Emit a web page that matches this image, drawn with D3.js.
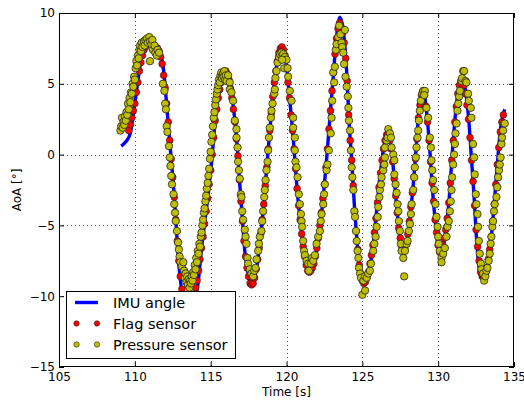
<!DOCTYPE html>
<html><head><meta charset="utf-8">
<script src="https://cdn.jsdelivr.net/npm/d3@7"></script>
<style>body{margin:0;background:#fff} svg{display:block;font-family:"DejaVu Sans",sans-serif}</style>
</head><body>
<svg id="c" width="524" height="403"></svg>
<script>
const xTicks = [105,110,115,120,125,130,135];
const yTicks = [-15,-10,-5,0,5,10];
const seriesNames = ["IMU angle","Flag sensor","Pressure sensor"];

const imuAngle = [
[109.1,0.6],[109.4,0.9],[109.7,1.5],[109.93,3.1],[110.15,4.8],[110.37,6.4],[110.6,7.5],[110.85,7.9],[111.05,8.0],[111.35,7.8],[111.6,7.5],[111.75,6.9],[111.9,5.9],[112.13,3.1],[112.35,0.3],[112.57,-2.5],[112.72,-4.9],[112.9,-7.7],[113.1,-9.6],[113.35,-10.4],[113.6,-10.5],[113.85,-10.3],[114.1,-9.6],[114.43,-6.3],[114.76,-3.5],[115.09,-0.2],[115.3,2.4],[115.57,4.5],[115.86,5.7],[116.05,5.9],[116.37,4.3],[116.6,2.4],[116.77,0.3],[116.92,-2.1],[117.08,-4.4],[117.25,-6.8],[117.47,-8.4],[117.69,-9.3],[117.96,-8.4],[118.24,-6.3],[118.46,-4.0],[118.68,-1.1],[118.9,1.7],[119.12,4.3],[119.34,6.2],[119.52,7.4],[119.71,7.7],[119.93,6.9],[120.22,3.8],[120.44,1.2],[120.59,-0.9],[120.77,-3.3],[120.95,-5.1],[121.16,-7.0],[121.47,-8.4],[121.82,-7.7],[122.13,-5.8],[122.42,-3.0],[122.64,-0.4],[122.86,2.6],[123.08,5.5],[123.3,8.3],[123.52,9.7],[123.74,8.8],[123.97,5.8],[124.12,2.4],[124.3,-0.4],[124.47,-3.5],[124.63,-5.8],[124.78,-7.7],[125.07,-9.2],[125.4,-8.4],[125.72,-6.3],[125.94,-4.0],[126.16,-1.6],[126.38,0.3],[126.67,1.5],[126.93,0.3],[127.15,-2.3],[127.37,-4.9],[127.7,-6.8],[127.92,-6.3],[128.14,-4.4],[128.36,-2.1],[128.57,0.75],[128.73,3.1],[129.01,4.5],[129.23,3.1],[129.45,0.3],[129.6,-2.1],[129.78,-4.4],[130.11,-7.0],[130.44,-5.8],[130.7,-3.5],[130.88,-0.7],[131.1,2.4],[131.32,4.5],[131.58,5.5],[131.8,4.5],[132.02,2.4],[132.19,-0.2],[132.37,-3.0],[132.52,-5.8],[132.85,-8.7],[133.18,-8.2],[133.46,-6.3],[133.68,-3.7],[133.9,-0.7],[134.12,1.9],[134.39,3.2]
];

const flagSensor = [
[109.6,1.7],[109.7,2.1],[109.8,2.6],[109.9,3.1],[110.0,3.6],[110.1,4.4],[110.2,5.1],[110.3,5.9],[110.4,6.5],[110.5,7.0],[110.6,7.4],[110.7,7.6],[110.8,7.8],[110.9,7.9],[111.0,7.9],[111.1,7.9],[111.2,7.8],[111.3,7.7],[111.4,7.5],[111.5,7.5],[111.6,7.3],[111.7,6.9],[111.8,6.4],[111.9,5.6],[112.0,4.7],[112.1,3.6],[112.2,2.3],[112.3,1.0],[112.4,-0.3],[112.5,-1.6],[112.6,-3.0],[112.7,-4.6],[112.8,-6.1],[112.9,-7.5],[113.0,-8.6],[113.1,-9.5],[113.2,-10.0],[113.3,-10.3],[113.4,-10.5],[113.5,-10.5],[113.6,-10.5],[113.7,-10.4],[113.8,-10.2],[113.9,-9.9],[114.0,-9.4],[114.1,-8.9],[114.2,-8.2],[114.3,-7.4],[114.4,-6.6],[114.5,-5.8],[114.6,-4.9],[114.7,-4.0],[114.8,-3.1],[114.9,-2.1],[115.0,-1.1],[115.1,0.0],[115.2,1.2],[115.3,2.4],[115.4,3.2],[115.5,4.0],[115.6,4.6],[115.7,5.1],[115.8,5.5],[115.9,5.8],[116.0,5.9],[116.1,5.7],[116.2,5.3],[116.3,4.7],[116.4,4.0],[116.5,3.2],[116.6,2.3],[116.7,1.1],[116.8,-0.1],[116.9,-1.8],[117.0,-3.3],[117.1,-4.7],[117.2,-6.1],[117.3,-7.2],[117.4,-8.0],[117.5,-8.6],[117.6,-9.1],[117.7,-9.2],[117.8,-9.1],[117.9,-8.7],[118.0,-8.1],[118.1,-7.4],[118.2,-6.6],[118.3,-5.6],[118.4,-4.6],[118.5,-3.5],[118.6,-2.2],[118.7,-0.9],[118.8,0.4],[118.9,1.7],[119.0,2.9],[119.1,4.1],[119.2,5.1],[119.3,5.9],[119.4,6.6],[119.5,7.2],[119.6,7.5],[119.7,7.6],[119.8,7.4],[119.9,7.0],[120.0,6.1],[120.1,5.1],[120.2,4.0],[120.3,2.8],[120.4,1.7],[120.5,0.4],[120.6,-1.0],[120.7,-2.4],[120.8,-3.6],[120.9,-4.6],[121.0,-5.6],[121.1,-6.5],[121.2,-7.2],[121.3,-7.8],[121.4,-8.2],[121.5,-8.3],[121.6,-8.2],[121.7,-8.0],[121.8,-7.7],[121.9,-7.2],[122.0,-6.6],[122.1,-5.9],[122.2,-5.0],[122.3,-4.1],[122.4,-3.1],[122.5,-2.1],[122.6,-0.9],[122.7,0.4],[122.8,1.8],[122.9,3.1],[123.0,4.5],[123.1,5.8],[123.2,7.1],[123.3,8.2],[123.4,8.9],[123.5,9.3],[123.6,9.0],[123.7,8.6],[123.8,7.9],[123.9,6.8],[124.0,5.2],[124.1,2.8],[124.2,1.0],[124.3,-0.4],[124.4,-2.2],[124.5,-4.0],[124.6,-5.4],[124.7,-6.7],[124.8,-7.8],[124.9,-8.4],[125.0,-8.9],[125.1,-9.1],[125.2,-9.0],[125.3,-8.7],[125.4,-8.3],[125.5,-7.7],[125.6,-7.1],[125.7,-6.4],[125.8,-5.5],[125.9,-4.5],[126.0,-3.4],[126.1,-2.3],[126.2,-1.3],[126.3,-0.4],[126.4,0.4],[126.5,1.0],[126.6,1.4],[126.7,1.4],[126.8,1.0],[126.9,0.4],[127.0,-0.5],[127.1,-1.7],[127.2,-2.9],[127.3,-4.1],[127.4,-5.2],[127.5,-5.9],[127.6,-6.5],[127.7,-6.7],[127.8,-6.6],[127.9,-6.3],[128.0,-5.6],[128.1,-4.7],[128.2,-3.7],[128.3,-2.7],[128.4,-1.6],[128.5,-0.3],[128.6,1.1],[128.7,2.6],[128.8,3.5],[128.9,4.2],[129.0,4.5],[129.1,4.2],[129.2,3.4],[129.3,2.3],[129.4,1.0],[129.5,-0.5],[129.6,-2.0],[129.7,-3.3],[129.8,-4.6],[129.9,-5.5],[130.0,-6.4],[130.1,-6.9],[130.2,-6.8],[130.3,-6.4],[130.4,-5.9],[130.5,-5.3],[130.6,-4.5],[130.7,-3.4],[130.8,-2.0],[130.9,-0.4],[131.0,1.0],[131.1,2.3],[131.2,3.4],[131.3,4.3],[131.4,4.9],[131.5,5.2],[131.6,5.3],[131.7,4.9],[131.8,4.3],[131.9,3.5],[132.0,2.5],[132.1,1.2],[132.2,-0.4],[132.3,-1.9],[132.4,-3.6],[132.5,-5.3],[132.6,-6.5],[132.7,-7.5],[132.8,-8.3],[132.9,-8.6],[133.0,-8.6],[133.1,-8.4],[133.2,-8.0],[133.3,-7.4],[133.4,-6.7],[133.5,-5.8],[133.6,-4.7],[133.7,-3.5],[133.8,-2.1],[133.9,-0.7],[134.0,0.5],[134.1,1.6],[134.2,2.3],[134.3,2.8]
];

const pressureSensor = [
[109.05,1.7],[109.1,2.0],[109.15,2.6],[109.2,1.9],[109.25,2.3],[109.3,2.1],[109.35,2.7],[109.4,2.4],[109.45,3.0],[109.5,2.8],[109.55,3.6],[109.6,3.2],[109.65,4.0],[109.7,3.7],[109.75,4.4],[109.8,4.3],[109.85,5.0],[109.9,4.8],[109.95,5.5],[110.0,5.3],[110.05,6.1],[110.1,6.6],[110.15,6.3],[110.2,7.0],[110.25,6.8],[110.3,7.4],[110.35,7.7],[110.4,7.3],[110.45,7.9],[110.5,7.6],[110.6,8.0],[110.65,7.7],[110.7,8.1],[110.8,8.2],[110.85,7.9],[110.95,8.3],[111.0,8.0],[111.0,6.6],[111.1,7.8],[111.15,8.1],[111.2,7.4],[111.3,7.7],[111.35,7.2],[111.45,7.0],[111.5,7.4],[111.6,7.2],
[111.85,5.0],[111.95,4.5],[112.0,3.6],[112.05,3.2],[112.1,2.0],[112.15,1.6],[112.25,0.6],[112.3,-0.2],[112.35,-0.8],[112.4,-1.5],[112.45,-2.1],[112.55,-2.8],[112.6,-3.5],[112.65,-4.1],[112.7,-4.7],[112.78,-5.4],[112.85,-6.2],[112.9,-6.7],[112.95,-7.2],[113.0,-7.6],[113.1,-7.9],[113.2,-7.6],[113.25,-8.2],[113.3,-8.7],[113.35,-8.4],[113.4,-9.0],[113.45,-8.6],[113.5,-9.2],[113.55,-8.8],[113.6,-9.4],[113.65,-8.9],[113.7,-9.1],[113.75,-8.6],[113.8,-8.9],[113.85,-8.3],[113.9,-8.5],[113.95,-7.8],[114.0,-8.1],[114.05,-7.3],[114.1,-7.6],[114.15,-6.8],[114.2,-7.0],[114.25,-6.3],[114.3,-6.5],[114.35,-5.8],[114.4,-5.5],[114.45,-5.0],[114.5,-4.6],[114.55,-4.1],[114.6,-3.8],[114.65,-3.3],[114.7,-2.9],[114.75,-2.4],[114.8,-2.0],[114.85,-1.5],[114.9,-1.0],[114.95,-0.3],[115.0,0.2],[115.05,0.9],[115.1,1.4],[115.15,2.0],[115.2,2.6],[115.25,3.0],[115.3,3.5],[115.35,3.9],[115.4,4.3],[115.45,4.6],[115.5,4.9],[115.55,5.3],[115.6,5.1],[115.65,5.6],[115.7,5.8],[115.75,5.4],[115.8,5.7],[115.85,5.5],[115.9,5.9],[115.95,5.3],[116.0,5.6],[116.05,5.2],[116.15,5.6],[116.26,5.1],[116.26,4.6],[116.37,4.4],[116.48,3.8],[116.59,2.4],[116.7,1.8],[116.7,1.2],[116.77,0.5],[116.81,-0.5],[116.86,-1.1],[116.92,-1.7],[116.99,-2.8],[117.03,-3.0],[117.08,-4.0],[117.14,-4.6],[117.25,-5.3],[117.3,-5.8],[117.36,-6.3],[117.43,-7.3],[117.47,-7.7],[117.58,-8.1],[117.69,-8.4],[117.8,-8.6],[117.87,-8.2],[117.96,-8.0],[118.02,-7.4],[118.13,-6.8],[118.18,-6.3],[118.24,-5.8],[118.35,-5.4],[118.4,-4.7],[118.46,-4.0],[118.53,-3.0],[118.57,-2.5],[118.62,-1.8],[118.68,-1.1],[118.75,-0.5],[118.79,0.3],[118.84,1.2],[118.9,1.9],[118.97,2.6],[119.01,3.1],[119.08,3.6],[119.19,4.3],[119.23,4.6],[119.27,5.4],[119.34,5.9],[119.41,6.5],[119.5,6.9],[119.56,7.1],[119.67,7.2],[119.78,7.1],[119.89,6.9],[120.0,6.7],[119.71,6.7],[119.85,6.1],[120.07,6.1],[120.11,5.5],[120.22,4.5],[120.33,3.8],[120.44,2.6],[120.44,1.9],[120.55,1.2],[120.55,0.3],[120.59,-0.5],[120.66,-0.9],[120.73,-1.6],[120.81,-2.8],[120.88,-3.5],[120.95,-4.2],[120.99,-4.7],[121.03,-5.1],[121.1,-6.1],[121.16,-6.8],[121.21,-7.1],[121.32,-7.5],[121.43,-7.7],[121.47,-8.2],[121.6,-7.7],[121.69,-7.3],[121.76,-7.5],[121.87,-7.1],[121.98,-6.3],[122.09,-5.8],[122.2,-5.4],[122.26,-4.7],[122.31,-4.2],[122.42,-3.5],[122.48,-2.8],[122.53,-2.1],[122.64,-1.1],[122.7,-0.7],[122.79,0.3],[122.92,1.5],[122.97,2.6],[123.01,3.8],[123.14,5.1],[123.08,5.8],[123.19,6.2],[123.25,7.4],[123.3,7.8],[123.41,8.3],[123.47,9.1],[123.56,8.5],[123.63,7.9],[123.67,7.6],[123.74,7.2],[123.8,6.4],[123.85,8.8],[123.89,5.5],
[123.97,4.8],[124.04,4.1],[124.08,3.3],[124.12,2.4],[124.19,1.7],[124.25,0.3],[124.3,-0.9],[124.34,-1.6],[124.41,-2.5],[124.47,-4.0],[124.52,-4.4],[124.58,-5.4],[124.63,-6.1],[124.69,-6.8],[124.74,-7.3],[124.78,-8.0],[124.85,-8.4],[124.91,-8.7],[125.07,-8.9],[125.18,-8.6],[125.29,-8.7],[125.39,-8.4],[125.5,-8.2],[125.57,-7.7],[125.0,-9.9],[125.18,-9.6],[125.72,-6.8],[125.79,-6.3],[125.88,-5.8],[125.94,-5.1],[126.01,-4.4],[126.05,-3.7],[126.12,-3.0],[126.16,-2.5],[126.23,-2.1],[126.27,-1.6],[126.38,-1.1],[126.45,-0.7],[126.49,-0.2],[126.49,0.5],[126.6,1.0],[126.67,1.2],[126.71,1.8],[126.82,1.5],[126.89,1.2],[126.93,0.5],[127.04,0.0],[127.11,-0.4],[127.11,-1.4],[127.19,-2.1],[127.26,-2.7],[127.32,-3.5],[127.37,-4.0],[127.41,-4.7],[127.48,-5.4],[127.54,-6.3],[127.59,-6.8],[127.7,-7.3],[127.81,-6.8],[127.76,-8.6],[127.92,-6.3],[127.98,-6.1],[128.07,-5.4],[128.14,-4.9],[128.2,-4.2],[128.25,-3.5],[128.36,-2.5],[128.42,-1.6],[128.46,-0.9],[128.53,-0.2],[128.57,0.5],[128.64,1.2],[128.68,1.7],[128.73,2.4],[128.79,3.1],[128.86,3.8],[128.95,4.3],[129.01,4.5],[129.12,4.5],[129.08,4.2],[129.23,3.3],[129.34,2.6],[129.45,1.2],[129.52,0.5],[129.56,-0.4],[129.61,-1.1],[129.67,-1.8],[129.74,-2.5],[129.82,-3.5],[129.89,-4.4],[129.96,-5.1],[130.0,-5.8],[130.04,-6.3],[130.11,-6.8],[130.22,-7.3],[130.22,-7.6],[130.33,-7.0],[130.44,-6.6],[130.55,-5.8],[130.61,-5.1],[130.7,-4.7],[130.77,-4.0],[130.83,-3.3],[130.88,-2.5],[130.92,-1.6],[130.99,-0.7],[131.05,0.0],[131.1,0.75],[131.14,1.5],[131.21,2.2],[131.27,3.1],[131.32,3.6],[131.38,4.1],[131.43,4.5],[131.54,5.2],[131.58,5.4],[131.65,5.9],[131.71,5.9],[131.8,5.2],[131.86,5.1],[131.97,4.3],[132.02,3.8],[132.15,3.3],[132.19,2.6],[132.3,0.75],[132.37,-0.2],[132.41,-1.4],[132.48,-2.8],[132.52,-3.5],[132.59,-4.2],[132.63,-5.1],[132.68,-6.1],[132.74,-7.0],[132.81,-7.7],[132.85,-8.1],[132.96,-8.4],[133.03,-8.9],[133.11,-8.6],[133.18,-8.2],[133.25,-8.0],[133.33,-7.5],[133.4,-7.0],[133.46,-6.3],[133.51,-5.8],[133.57,-5.1],[133.62,-4.7],[133.68,-4.0],[133.73,-3.5],[133.84,-3.0],[133.9,-2.3],[133.95,-1.6],[134.01,-1.1],[134.06,-0.7],[134.12,-0.2],[134.17,0.75],[134.21,1.2],[134.28,1.7],[134.34,2.2],[134.39,2.2]
];

const svg = d3.select('#c');
const M = {l:59, r:514, t:13, b:367};
const x = d3.scaleLinear().domain([105,135]).range([M.l, M.r]);
const y = d3.scaleLinear().domain([-15,10]).range([M.b, M.t]);
const font = '"DejaVu Sans", sans-serif';

svg.append('rect').attr('width',524).attr('height',403).attr('fill','#fff');

// grid
const grid = svg.append('g').attr('stroke','#000').attr('stroke-width',0.8).attr('stroke-dasharray','1,3').attr('opacity',0.85);
grid.selectAll('line.gx').data(xTicks.slice(1,-1)).join('line')
  .attr('x1',d=>Math.round(x(d))+0.5).attr('x2',d=>Math.round(x(d))+0.5)
  .attr('y1',M.t).attr('y2',M.b);
grid.selectAll('line.gy').data(yTicks.slice(1,-1)).join('line')
  .attr('y1',d=>Math.round(y(d))+0.5).attr('y2',d=>Math.round(y(d))+0.5)
  .attr('x1',M.l).attr('x2',M.r);

// clip
svg.append('clipPath').attr('id','clip').append('rect')
  .attr('x',M.l).attr('y',M.t).attr('width',M.r-M.l).attr('height',M.b-M.t);
const plot = svg.append('g').attr('clip-path','url(#clip)');

const line = d3.line().x(d=>x(d[0])).y(d=>y(d[1])).curve(d3.curveMonotoneX);
plot.append('path').datum(imuAngle).attr('d',line)
  .attr('fill','none').attr('stroke','#0000ff').attr('stroke-width',3.4)
  .attr('stroke-linejoin','round').attr('stroke-linecap','butt');

plot.append('g').selectAll('circle').data(flagSensor).join('circle')
  .attr('cx',d=>x(d[0])).attr('cy',d=>y(d[1])).attr('r',3.4)
  .attr('fill','#ff0000').attr('stroke','#222').attr('stroke-width',0.6);

plot.append('g').selectAll('circle').data(pressureSensor).join('circle')
  .attr('cx',d=>x(d[0])).attr('cy',d=>y(d[1])).attr('r',3.7)
  .attr('fill','#bfbf00').attr('stroke','#222').attr('stroke-width',0.8);

// axes
function styleAxis(g){
  g.attr('font-family',font).attr('font-size',12);
  g.select('.domain').remove();
  g.selectAll('.tick line').attr('stroke','#000').attr('stroke-width',1);
  g.selectAll('.tick text').attr('fill','#000');
}
svg.append('g').attr('transform',`translate(0,${M.b})`)
  .call(d3.axisBottom(x).tickValues(xTicks).tickFormat(d3.format('d')).tickSizeInner(-5).tickSizeOuter(0).tickPadding(5))
  .call(styleAxis);
svg.append('g').attr('transform',`translate(0,${M.t})`)
  .call(d3.axisTop(x).tickValues(xTicks).tickFormat('').tickSizeInner(-5).tickSizeOuter(0))
  .call(styleAxis);
svg.append('g').attr('transform',`translate(${M.l},0)`)
  .call(d3.axisLeft(y).tickValues(yTicks).tickFormat(d3.format('d')).tickSizeInner(-5).tickSizeOuter(0).tickPadding(4))
  .call(styleAxis);
svg.append('g').attr('transform',`translate(${M.r},0)`)
  .call(d3.axisRight(y).tickValues(yTicks).tickFormat('').tickSizeInner(-5).tickSizeOuter(0))
  .call(styleAxis);

// frame
svg.append('rect').attr('x',M.l+0.5).attr('y',M.t+0.5).attr('width',M.r-M.l-1).attr('height',M.b-M.t-1)
  .attr('fill','none').attr('stroke','#000').attr('stroke-width',1);

// axis labels
svg.append('text').attr('x',(M.l+M.r)/2).attr('y',396).attr('text-anchor','middle')
  .attr('font-family',font).attr('font-size',12).text('Time [s]');
svg.append('text').attr('transform',`translate(21,${(M.t+M.b)/2}) rotate(-90)`).attr('text-anchor','middle')
  .attr('font-family',font).attr('font-size',12).text('AoA [°]');

// legend
const lg = svg.append('g');
lg.append('rect').attr('x',66.5).attr('y',291.5).attr('width',169).attr('height',67)
  .attr('fill','#fff').attr('stroke','#000').attr('stroke-width',1);
const rows = [308,329,350];
lg.append('line').attr('x1',75).attr('x2',98).attr('y1',rows[0]-5.5).attr('y2',rows[0]-5.5)
  .attr('stroke','#0000ff').attr('stroke-width',3.4);
[[rows[1],'#ff0000'],[rows[2],'#bfbf00']].forEach(([ry,c])=>{
  [76.5,97].forEach(cx=>{
    lg.append('circle').attr('cx',cx).attr('cy',ry-5.5).attr('r',2.7)
      .attr('fill',c).attr('stroke','#222').attr('stroke-width',0.6);
  });
});
seriesNames.forEach((n,i)=>{
  lg.append('text').attr('x',113).attr('y',rows[i]).attr('font-family',font)
    .attr('font-size',14.5).text(n);
});
</script>
</body></html>
